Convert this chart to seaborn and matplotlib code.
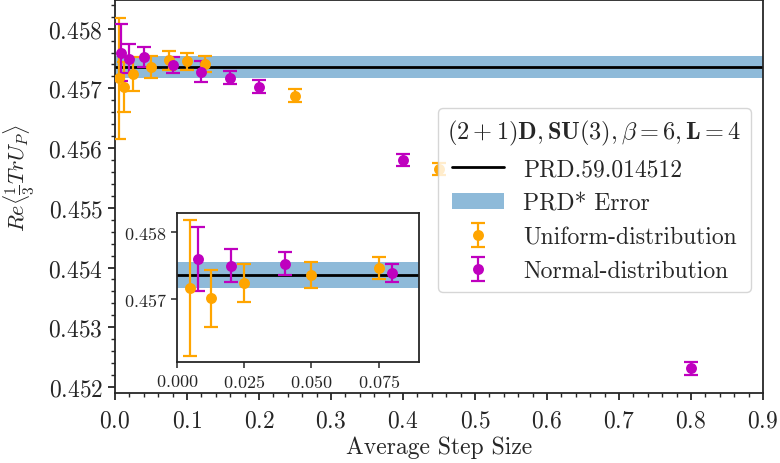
import matplotlib
matplotlib.use("Agg")
import matplotlib.pyplot as plt
import seaborn as sns
import numpy as np
from matplotlib.patches import Patch
from matplotlib.lines import Line2D
from matplotlib.ticker import MultipleLocator

# ---- data ----
ref_value = 0.45736
ref_error = 0.00019

uniform_x = [0.005, 0.0125, 0.025, 0.05, 0.075, 0.1, 0.125, 0.25, 0.45]
uniform_y = [0.45717, 0.45702, 0.45724, 0.45736, 0.45747, 0.45745, 0.45741, 0.45688, 0.45565]
uniform_err = [0.00101, 0.00042, 0.00028, 0.00019, 0.00016, 0.00014, 0.00013, 0.00011, 0.00010]

normal_x = [0.008, 0.02, 0.04, 0.08, 0.12, 0.16, 0.2, 0.4, 0.8]
normal_y = [0.45760, 0.45750, 0.45753, 0.45739, 0.45728, 0.45718, 0.45703, 0.45580, 0.45231]
normal_err = [0.00048, 0.00024, 0.00017, 0.000135, 0.00017, 0.00011, 0.00011, 0.00010, 0.00011]

main_xticks = [0.0, 0.1, 0.2, 0.3, 0.4, 0.5, 0.6, 0.7, 0.8, 0.9]
main_yticks = [0.452, 0.453, 0.454, 0.455, 0.456, 0.457, 0.458]
inset_xticks = [0.0, 0.025, 0.05, 0.075]
inset_yticks = [0.457, 0.458]

series = [
    ("Uniform-distribution", uniform_x, uniform_y, uniform_err, "orange"),
    ("Normal-distribution", normal_x, normal_y, normal_err, "m"),
]

# ---- style ----
sns.set_style("ticks")
plt.rcParams.update({
    "font.family": ["cmr10", "DejaVu Serif"],
    "mathtext.fontset": "cm",
    "axes.formatter.use_mathtext": True,
    "axes.linewidth": 1.3,
    "axes.edgecolor": "0.15",
    "xtick.direction": "out",
    "ytick.direction": "out",
})

fig = plt.figure(figsize=(7.8, 4.64), dpi=100)
ax = fig.add_axes([0.1474, 0.1509, 0.8308, 0.847])
axins = fig.add_axes([0.2269, 0.217, 0.3103, 0.3218])


def draw(a, xmax, ms, cap):
    a.axhspan(ref_value - ref_error, ref_value + ref_error, color="C0", alpha=0.5, lw=0, zorder=1)
    a.axhline(ref_value, color="k", lw=2, zorder=2)
    handles = []
    for label, xs, ys, es, col in series:
        xs = np.asarray(xs); ys = np.asarray(ys); es = np.asarray(es)
        m = xs <= xmax
        eb = a.errorbar(xs[m], ys[m], yerr=es[m], fmt="none", ecolor=col,
                        elinewidth=1.6, capsize=cap, capthick=1.6, zorder=3)
        sns.scatterplot(x=xs[m], y=ys[m], color=col, s=ms, linewidth=0, ax=a, zorder=4)
        sc = a.collections[-1]
        handles.append((eb, sc))
    return handles


h_main = draw(ax, 1.0, 62, 5)
draw(axins, 0.09, 62, 5)

ax.set_xlim(0.0, 0.9)
ax.set_ylim(0.4519, 0.45848)
ax.set_xticks(main_xticks)
ax.set_yticks(main_yticks)
ax.xaxis.set_minor_locator(MultipleLocator(0.02))
ax.yaxis.set_minor_locator(MultipleLocator(0.0002))
ax.ticklabel_format(useOffset=False)
ax.tick_params(axis="both", which="major", labelsize=17, length=5, width=1.3)
ax.tick_params(axis="x", which="major", pad=7)
ax.tick_params(axis="both", which="minor", length=3, width=1.0)
ax.set_xlabel("Average Step Size", fontsize=17, labelpad=3)
ax.set_ylabel(r"$Re\langle\frac{1}{3}TrU_P\rangle$", fontsize=16)
ax.yaxis.set_label_coords(-0.12, 0.55)

axins.set_xlim(0.0, 0.09)
axins.set_ylim(0.45607, 0.45828)
axins.set_xticks(inset_xticks)
axins.set_yticks(inset_yticks)
axins.ticklabel_format(useOffset=False)
axins.tick_params(axis="both", which="major", labelsize=13, length=4, width=1.1)
axins.set_xlabel("")
axins.set_ylabel("")

line_h = Line2D([], [], color="k", lw=2)
band_h = Patch(facecolor="C0", alpha=0.5, lw=0)
handles = [line_h, band_h] + h_main
labels = ["PRD.59.014512", "PRD* Error", "Uniform-distribution", "Normal-distribution"]
title = r"$\mathbf{(2+1)D}, \mathbf{SU(3)}, \beta=\mathbf{6}, \mathbf{L=4}$"
leg = ax.legend(handles, labels, title=title, loc="upper right",
                bbox_to_anchor=(0.9815, 0.725), borderaxespad=0,
                fontsize=17, title_fontsize=17.5, scatteryoffsets=[0.5],
                handlelength=2.2, framealpha=0.8, frameon=True)

fig.savefig("out.png", dpi=100)
